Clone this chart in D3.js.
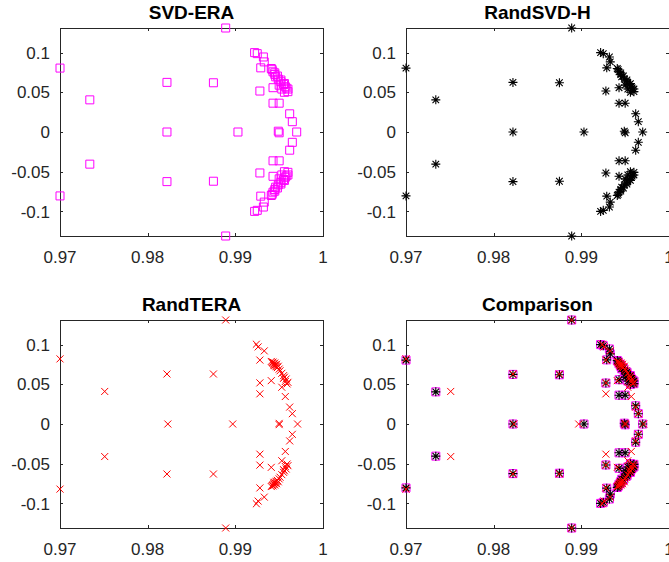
<!DOCTYPE html>
<html>
<head>
<meta charset="utf-8">
<script src="https://cdn.jsdelivr.net/npm/d3@7"></script>
<style>
  body { margin: 0; background: #fff; }
  svg { display: block; font-family: "Liberation Sans", Arial, sans-serif; }
</style>
</head>
<body>
<div id="chart"></div>
<script>
const width = 669;
const height = 562;

const xTicks = [0.97, 0.98, 0.99, 1];
const xTickLabels = ["0.97", "0.98", "0.99", "1"];
const yTicks = [-0.1, -0.05, 0, 0.05, 0.1];
const yTickLabels = ["-0.1", "-0.05", "0", "0.05", "0.1"];
const xDomain = [0.97, 1.0];
const yDomain = [-0.131, 0.131];

const svdEra = [
  [0.9700, 0.0805], [0.9734, 0.0405], [0.9822, 0.0625], [0.9875, 0.0620], [0.9889, 0.1310],
  [0.9922, 0.1000], [0.9925, 0.0987], [0.9932, 0.0945], [0.9933, 0.0883], [0.9929, 0.0808],
  [0.9928, 0.0516], [0.9941, 0.0800], [0.9942, 0.0785], [0.9943, 0.0758], [0.9945, 0.0745],
  [0.9945, 0.0725], [0.9946, 0.0695], [0.9948, 0.0705], [0.9949, 0.0666], [0.9952, 0.0655],
  [0.9952, 0.0633], [0.9955, 0.0600], [0.9956, 0.0610], [0.9957, 0.0570], [0.9958, 0.0555],
  [0.9960, 0.0541], [0.9960, 0.0508], [0.9956, 0.0500], [0.9953, 0.0541], [0.9950, 0.0590],
  [0.9943, 0.0558], [0.9943, 0.0363], [0.9950, 0.0363], [0.9962, 0.0229], [0.9965, 0.0130],
  [0.9822, 0], [0.9903, 0], [0.9949, 0.0010], [0.9950, -0.0010], [0.9970, 0],
  [0.9700, -0.0805], [0.9734, -0.0405], [0.9822, -0.0625], [0.9875, -0.0620], [0.9889, -0.1310],
  [0.9922, -0.1000], [0.9925, -0.0987], [0.9932, -0.0945], [0.9933, -0.0883], [0.9929, -0.0808],
  [0.9928, -0.0516], [0.9941, -0.0800], [0.9942, -0.0785], [0.9943, -0.0758], [0.9945, -0.0745],
  [0.9945, -0.0725], [0.9946, -0.0695], [0.9948, -0.0705], [0.9949, -0.0666], [0.9952, -0.0655],
  [0.9952, -0.0633], [0.9955, -0.0600], [0.9956, -0.0610], [0.9957, -0.0570], [0.9958, -0.0555],
  [0.9960, -0.0541], [0.9960, -0.0508], [0.9956, -0.0500], [0.9953, -0.0541], [0.9950, -0.0590],
  [0.9943, -0.0558], [0.9943, -0.0363], [0.9950, -0.0363], [0.9962, -0.0229], [0.9965, -0.0130]
];

const randSvdH = [
  [0.9700, 0.0805], [0.9734, 0.0405], [0.9822, 0.0625], [0.9875, 0.0620], [0.9889, 0.1310],
  [0.9922, 0.1000], [0.9925, 0.0987], [0.9932, 0.0945], [0.9933, 0.0883], [0.9929, 0.0808],
  [0.9928, 0.0516], [0.9941, 0.0800], [0.9942, 0.0785], [0.9943, 0.0758], [0.9945, 0.0745],
  [0.9945, 0.0725], [0.9946, 0.0695], [0.9948, 0.0705], [0.9949, 0.0666], [0.9952, 0.0655],
  [0.9952, 0.0633], [0.9955, 0.0600], [0.9956, 0.0610], [0.9957, 0.0570], [0.9958, 0.0555],
  [0.9960, 0.0541], [0.9960, 0.0508], [0.9956, 0.0500], [0.9953, 0.0541], [0.9950, 0.0590],
  [0.9943, 0.0558], [0.9943, 0.0363], [0.9950, 0.0363], [0.9962, 0.0229], [0.9965, 0.0130],
  [0.9822, 0], [0.9903, 0], [0.9949, 0.0010], [0.9950, -0.0010], [0.9970, 0],
  [0.9700, -0.0805], [0.9734, -0.0405], [0.9822, -0.0625], [0.9875, -0.0620], [0.9889, -0.1310],
  [0.9922, -0.1000], [0.9925, -0.0987], [0.9932, -0.0945], [0.9933, -0.0883], [0.9929, -0.0808],
  [0.9928, -0.0516], [0.9941, -0.0800], [0.9942, -0.0785], [0.9943, -0.0758], [0.9945, -0.0745],
  [0.9945, -0.0725], [0.9946, -0.0695], [0.9948, -0.0705], [0.9949, -0.0666], [0.9952, -0.0655],
  [0.9952, -0.0633], [0.9955, -0.0600], [0.9956, -0.0610], [0.9957, -0.0570], [0.9958, -0.0555],
  [0.9960, -0.0541], [0.9960, -0.0508], [0.9956, -0.0500], [0.9953, -0.0541], [0.9950, -0.0590],
  [0.9943, -0.0558], [0.9943, -0.0363], [0.9950, -0.0363], [0.9962, -0.0229], [0.9965, -0.0130]
];

const randTera = [
  [0.9700, 0.0820], [0.9751, 0.0410], [0.9822, 0.0630], [0.9875, 0.0630], [0.9889, 0.1310],
  [0.9924, 0.1005], [0.9926, 0.0971], [0.9933, 0.0921], [0.9928, 0.0805], [0.9941, 0.0788],
  [0.9942, 0.0775], [0.9943, 0.0763], [0.9944, 0.0752], [0.9945, 0.0742], [0.9946, 0.0730],
  [0.9947, 0.0721], [0.9948, 0.0710], [0.9950, 0.0692], [0.9951, 0.0670], [0.9953, 0.0638],
  [0.9955, 0.0609], [0.9956, 0.0590], [0.9958, 0.0567], [0.9960, 0.0525], [0.9959, 0.0505],
  [0.9953, 0.0463], [0.9941, 0.0546], [0.9928, 0.0518], [0.9928, 0.0380], [0.9957, 0.0346],
  [0.9962, 0.0213], [0.9965, 0.0130], [0.9943, 0.0780], [0.9945, 0.0768], [0.9947, 0.0752],
  [0.9944, 0.0735], [0.9949, 0.0728], [0.9955, 0.0575], [0.9957, 0.0535],
  [0.9823, 0], [0.9897, 0], [0.9950, 0.0008], [0.9950, -0.0008], [0.9971, 0],
  [0.9700, -0.0820], [0.9751, -0.0410], [0.9822, -0.0630], [0.9875, -0.0630], [0.9889, -0.1310],
  [0.9924, -0.1005], [0.9926, -0.0971], [0.9933, -0.0921], [0.9928, -0.0805], [0.9941, -0.0788],
  [0.9942, -0.0775], [0.9943, -0.0763], [0.9944, -0.0752], [0.9945, -0.0742], [0.9946, -0.0730],
  [0.9947, -0.0721], [0.9948, -0.0710], [0.9950, -0.0692], [0.9951, -0.0670], [0.9953, -0.0638],
  [0.9955, -0.0609], [0.9956, -0.0590], [0.9958, -0.0567], [0.9960, -0.0525], [0.9959, -0.0505],
  [0.9953, -0.0463], [0.9941, -0.0546], [0.9928, -0.0518], [0.9928, -0.0380], [0.9957, -0.0346],
  [0.9962, -0.0213], [0.9965, -0.0130], [0.9943, -0.0780], [0.9945, -0.0768], [0.9947, -0.0752],
  [0.9944, -0.0735], [0.9949, -0.0728], [0.9955, -0.0575], [0.9957, -0.0535]
];

const axisColor = "#262626";
const panelW = 263;
const panelH = 208;

const panels = [
  { title: "SVD-ERA", left: 60, top: 28, series: [{ data: svdEra, marker: "square" }] },
  { title: "RandSVD-H", left: 406, top: 28, series: [{ data: randSvdH, marker: "star" }] },
  { title: "RandTERA", left: 60, top: 320, series: [{ data: randTera, marker: "cross" }] },
  { title: "Comparison", left: 406, top: 320, series: [
      { data: svdEra, marker: "square" },
      { data: randSvdH, marker: "star" },
      { data: randTera, marker: "cross" }
  ] }
];

const markers = {
  square: { color: "#ff00ff", width: 1, path: "M-4,-4H4V4H-4Z" },
  star: { color: "#000000", width: 1.1, path: "M-4.5,0H4.5M0,-4.5V4.5M-3.3,-3.3L3.3,3.3M-3.3,3.3L3.3,-3.3" },
  cross: { color: "#ff0000", width: 1, path: "M-3.5,-3.5L3.5,3.5M-3.5,3.5L3.5,-3.5" }
};

const svg = d3.select("#chart")
  .append("svg")
  .attr("width", width)
  .attr("height", height)
  .attr("viewBox", `0 0 ${width} ${height}`);

panels.forEach(p => drawPanel(p));

function drawPanel(p) {
  const x = d3.scaleLinear().domain(xDomain).range([p.left, p.left + panelW]);
  const y = d3.scaleLinear().domain(yDomain).range([p.top + panelH, p.top]);
  const bottom = p.top + panelH;
  const right = p.left + panelW;

  const g = svg.append("g").attr("class", "panel");

  // box
  g.append("rect")
    .attr("x", p.left + 0.5)
    .attr("y", p.top + 0.5)
    .attr("width", panelW)
    .attr("height", panelH)
    .attr("fill", "none")
    .attr("stroke", axisColor)
    .attr("stroke-width", 1);

  // ticks, inward on all sides
  xTicks.forEach((t, i) => {
    const px = Math.round(x(t)) + 0.5;
    g.append("line").attr("x1", px).attr("x2", px).attr("y1", bottom).attr("y2", bottom - 3)
      .attr("stroke", axisColor);
    g.append("line").attr("x1", px).attr("x2", px).attr("y1", p.top).attr("y2", p.top + 3)
      .attr("stroke", axisColor);
    g.append("text")
      .attr("x", x(t))
      .attr("y", bottom + 27)
      .attr("text-anchor", "middle")
      .attr("font-size", 17)
      .attr("fill", axisColor)
      .text(xTickLabels[i]);
  });

  yTicks.forEach((t, i) => {
    const py = Math.round(y(t)) + 0.5;
    g.append("line").attr("x1", p.left).attr("x2", p.left + 3).attr("y1", py).attr("y2", py)
      .attr("stroke", axisColor);
    g.append("line").attr("x1", right).attr("x2", right - 3).attr("y1", py).attr("y2", py)
      .attr("stroke", axisColor);
    g.append("text")
      .attr("x", p.left - 10)
      .attr("y", y(t))
      .attr("dy", "0.36em")
      .attr("text-anchor", "end")
      .attr("font-size", 17)
      .attr("fill", axisColor)
      .text(yTickLabels[i]);
  });

  g.append("text")
    .attr("x", p.left + panelW / 2)
    .attr("y", p.top - 9)
    .attr("text-anchor", "middle")
    .attr("font-size", 19)
    .attr("font-weight", "bold")
    .attr("fill", "#000")
    .text(p.title);

  p.series.forEach(s => {
    const m = markers[s.marker];
    g.append("g")
      .selectAll("path")
      .data(s.data)
      .enter()
      .append("path")
      .attr("transform", d => `translate(${x(d[0])},${y(d[1])})`)
      .attr("d", m.path)
      .attr("fill", "none")
      .attr("stroke", m.color)
      .attr("stroke-width", m.width);
  });
}
</script>
</body>
</html>
